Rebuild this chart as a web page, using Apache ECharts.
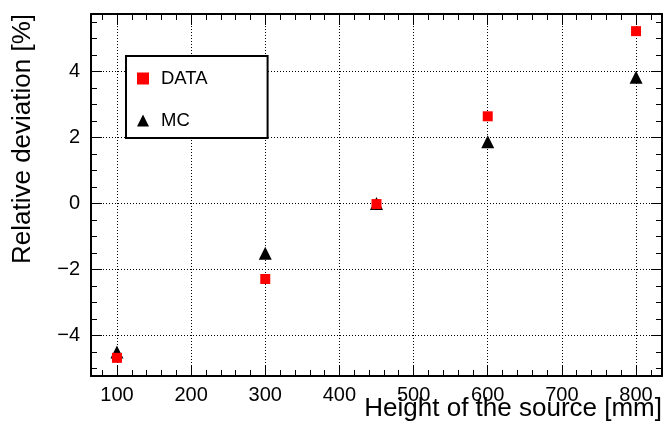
<!DOCTYPE html>
<html>
<head>
<meta charset="utf-8">
<script src="https://cdn.jsdelivr.net/npm/echarts@6/dist/echarts.min.js"></script>
<style>
  html, body { margin: 0; padding: 0; background: #fff; }
  #main { width: 667px; height: 434px; }
</style>
</head>
<body>
<div id="main"></div>
<script>
// source heights [mm]
var heights = [100, 300, 450, 600, 800];
// relative deviation [%]
var dataValues = [-4.68, -2.29, -0.02, 2.64, 5.22];
var mcValues = [-4.5, -1.51, 0.0, 1.87, 3.82];

var xMajor = [100, 200, 300, 400, 500, 600, 700, 800];
var xMinor = [80, 120, 140, 160, 180, 220, 240, 260, 280, 320, 340, 360, 380,
  420, 440, 460, 480, 520, 540, 560, 580, 620, 640, 660, 680, 720, 740, 760, 780, 820];
var yMajor = [-4, -2, 0, 2, 4];
var yMinor = [-5, -4.5, -3.5, -3, -2.5, -1.5, -1, -0.5, 0.5, 1, 1.5, 2.5, 3, 3.5, 4.5, 5, 5.5];

var xRange = [65, 835];
var yRange = [-5.23, 5.74];

var FONT = 'Liberation Sans';

function toPairs(xs, ys) {
  var out = [];
  for (var i = 0; i < xs.length; i++) out.push([xs[i], ys[i]]);
  return out;
}

// one axis per side for the major ticks, one more for the minor ticks (ROOT style frame)
function xAx(pos, ticks, len, main) {
  return {
    type: 'value', position: pos, min: xRange[0], max: xRange[1],
    axisLine: { show: main, onZero: false, lineStyle: { color: '#000', width: 2 } },
    axisTick: { show: true, inside: true, length: len, customValues: ticks,
      lineStyle: { color: '#000', width: 1 } },
    axisLabel: { show: main && pos === 'bottom', customValues: xMajor, margin: 9,
      fontSize: 20, color: '#000', fontFamily: FONT },
    splitLine: { show: main && pos === 'bottom',
      lineStyle: { color: '#000', type: [1, 2], width: 1 } }
  };
}
function yAx(pos, ticks, len, main) {
  return {
    type: 'value', position: pos, min: yRange[0], max: yRange[1],
    axisLine: { show: main, onZero: false, lineStyle: { color: '#000', width: 2 } },
    axisTick: { show: true, inside: true, length: len, customValues: ticks,
      lineStyle: { color: '#000', width: 1 } },
    axisLabel: { show: main && pos === 'left', customValues: yMajor, margin: 11,
      fontSize: 20, color: '#000', fontFamily: FONT,
      formatter: function (v) { return String(v).replace('-', '\u2212'); } },
    splitLine: { show: main && pos === 'left',
      lineStyle: { color: '#000', type: [1, 2], width: 1 } }
  };
}

var chart = echarts.init(document.getElementById('main'));
chart.setOption({
  animation: false,
  backgroundColor: '#fff',
  grid: { left: 91, right: 5, top: 14, bottom: 58, outerBoundsMode: 'none' },
  xAxis: [
    xAx('bottom', xMajor, 11, true),
    xAx('bottom', xMinor, 6, false),
    xAx('top', xMajor, 11, true),
    xAx('top', xMinor, 6, false)
  ],
  yAxis: [
    yAx('left', yMajor, 11, true),
    yAx('left', yMinor, 6, false),
    yAx('right', yMajor, 11, true),
    yAx('right', yMinor, 6, false)
  ],
  legend: {
    data: ['DATA', 'MC'],
    orient: 'vertical',
    left: 126, top: 56,
    padding: [13, 60, 8, 11],
    itemGap: 23,
    itemWidth: 12, itemHeight: 12,
    borderColor: '#000', borderWidth: 2, borderRadius: 0,
    backgroundColor: '#fff',
    textStyle: { fontSize: 18.5, color: '#000', fontFamily: FONT, padding: [0, 0, 0, 7] }
  },
  graphic: [
    { type: 'text', x: 662, y: 409,
      style: { text: 'Height of the source [mm]', font: '26px ' + FONT, fill: '#000',
        textAlign: 'right', textVerticalAlign: 'middle' } },
    { type: 'text', x: 23, y: 14, rotation: Math.PI / 2,
      style: { text: 'Relative deviation [%]', font: '26px ' + FONT, fill: '#000',
        textAlign: 'right', textVerticalAlign: 'middle' } }
  ],
  series: [
    { name: 'MC', type: 'scatter', symbol: 'triangle', symbolSize: 13,
      itemStyle: { color: '#000', opacity: 1 }, data: toPairs(heights, mcValues) },
    { name: 'DATA', type: 'scatter', symbol: 'rect', symbolSize: 10,
      itemStyle: { color: '#ff0000', opacity: 1 }, data: toPairs(heights, dataValues) }
  ]
});
</script>
</body>
</html>
